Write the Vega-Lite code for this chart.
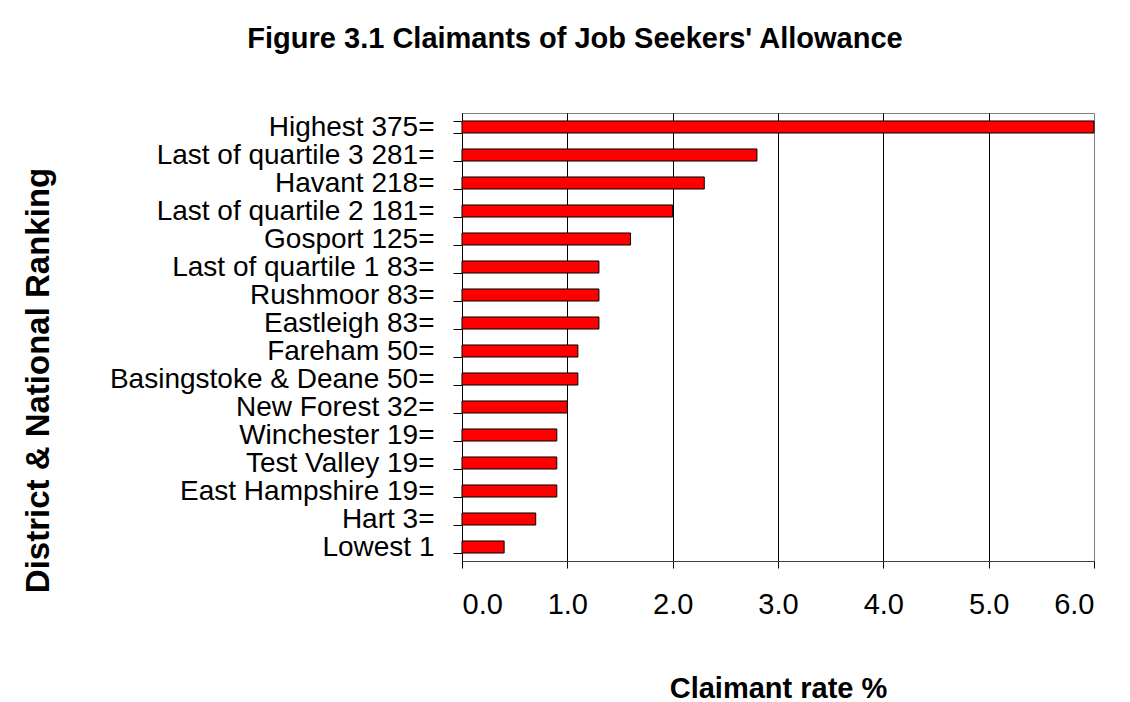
{
  "$schema": "https://vega.github.io/schema/vega-lite/v6.json",
  "autosize": "none",
  "width": 632,
  "height": 448,
  "padding": {"left": 462, "top": 113, "right": 36, "bottom": 141},
  "background": "white",
  "title": {
    "text": "Figure 3.1 Claimants of Job Seekers' Allowance",
    "font": "Liberation Sans",
    "fontSize": 29,
    "fontWeight": "bold",
    "color": "black",
    "anchor": "middle",
    "dx": -203,
    "offset": 45
  },
  "data": {
    "values": [
      {"label": "Highest 375=", "rate": 6.0},
      {"label": "Last of quartile 3 281=", "rate": 2.8},
      {"label": "Havant 218=", "rate": 2.3},
      {"label": "Last of quartile 2 181=", "rate": 2.0},
      {"label": "Gosport 125=", "rate": 1.6},
      {"label": "Last of quartile 1 83=", "rate": 1.3},
      {"label": "Rushmoor 83=", "rate": 1.3},
      {"label": "Eastleigh 83=", "rate": 1.3},
      {"label": "Fareham 50=", "rate": 1.1},
      {"label": "Basingstoke & Deane 50=", "rate": 1.1},
      {"label": "New Forest 32=", "rate": 1.0},
      {"label": "Winchester 19=", "rate": 0.9},
      {"label": "Test Valley 19=", "rate": 0.9},
      {"label": "East Hampshire 19=", "rate": 0.9},
      {"label": "Hart 3=", "rate": 0.7},
      {"label": "Lowest 1", "rate": 0.4}
    ]
  },
  "mark": {"type": "bar", "fill": "#FF0000", "stroke": "black", "strokeWidth": 1},
  "encoding": {
    "y": {
      "field": "label",
      "type": "nominal",
      "sort": null,
      "scale": {"paddingInner": 0.57, "paddingOuter": 0.285},
      "axis": {
        "title": "District & National Ranking",
        "titleFont": "Liberation Sans",
        "titleFontSize": 33,
        "titleFontWeight": "bold",
        "titleColor": "black",
        "titleX": -424,
        "titleY": 267,
        "titleBaseline": "middle",
        "titleAngle": -90,
        "labelFont": "Liberation Sans",
        "labelFontSize": 28,
        "labelColor": "black",
        "labelPadding": 19,
        "labelLimit": 0,
        "labelOverlap": false,
        "tickBand": "extent",
        "tickSize": 9,
        "tickColor": "black",
        "domainColor": "black",
        "grid": false
      }
    },
    "x": {
      "field": "rate",
      "type": "quantitative",
      "scale": {"domain": [0, 6], "nice": false},
      "axis": {
        "title": "Claimant rate %",
        "titleFont": "Liberation Sans",
        "titleFontSize": 29,
        "titleFontWeight": "bold",
        "titleColor": "black",
        "titleY": 127,
        "titleBaseline": "middle",
        "values": [0, 1, 2, 3, 4, 5, 6],
        "format": ".1f",
        "labelFont": "Liberation Sans",
        "labelFontSize": 29,
        "labelColor": "black",
        "labelPadding": 22,
        "labelOverlap": false,
        "tickSize": 7,
        "tickColor": "black",
        "domainColor": "#404040",
        "grid": true,
        "gridColor": {"condition": {"test": "datum.value == 6", "value": "#808080"}, "value": "black"},
        "gridOpacity": 1
      }
    }
  },
  "config": {
    "view": {"stroke": "#808080", "strokeWidth": 1}
  }
}
